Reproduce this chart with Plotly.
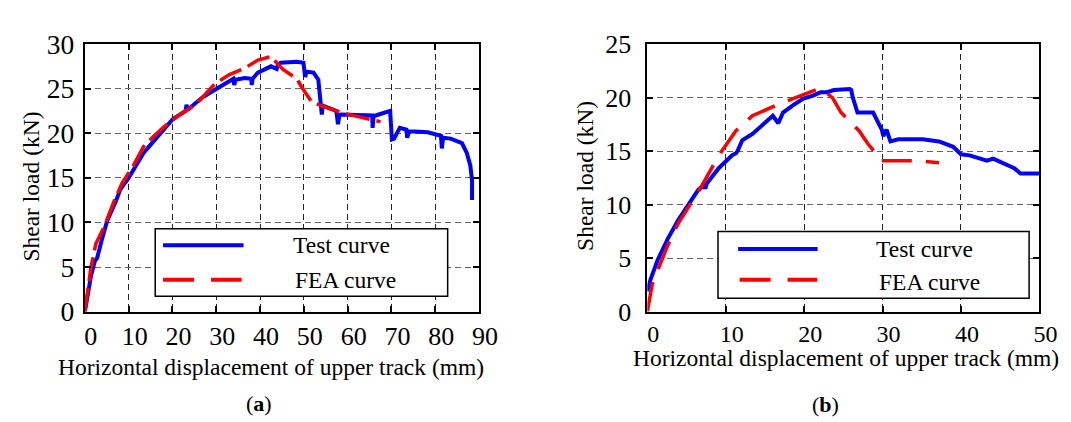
import plotly.graph_objects as go

# ---------------- data ----------------
# Panel (a)
a_test_x = [0, 0.7, 1.4, 2.3, 2.8, 3.9, 5.1, 7.0, 8.1, 10.0, 13.4, 17.1, 20.1, 23.0, 23.2, 23.4,
            26.8, 29.8, 32.0, 33.9, 34.1, 34.4, 36.5, 38.0, 38.1, 38.3, 39.5, 42.5, 43.8, 44.0, 44.7,
            46.9, 48.4, 49.9, 50.3, 50.6, 52.2, 53.3, 53.7, 54.0, 54.1, 54.3, 54.8, 57.4, 57.8, 58.1,
            58.5, 61.9, 65.6, 65.7, 65.9, 67.1, 69.7, 70.1, 70.6, 71.9, 73.4, 73.6, 74.0, 75.3, 78.3,
            81.3, 81.5, 81.8, 83.5, 86.1, 87.2, 88.0, 88.4, 88.4]
a_test_y = [0, 2.2, 4.0, 5.7, 6.0, 8.1, 10.2, 12.3, 13.7, 15.0, 17.8, 19.9, 21.6, 22.5, 23.2, 22.6,
            24.0, 24.9, 25.6, 26.1, 25.4, 26.0, 26.2, 26.1, 25.4, 26.1, 26.8, 27.5, 27.2, 27.6, 27.9,
            28.0, 28.0, 27.9, 26.3, 26.9, 26.8, 26.0, 23.7, 23.2, 22.1, 23.1, 23.0, 22.5, 21.0, 22.0,
            22.1, 22.1, 22.0, 20.6, 21.9, 22.1, 22.5, 19.3, 19.4, 20.6, 20.4, 19.5, 20.2, 20.2, 20.1,
            19.7, 18.3, 19.5, 19.4, 18.9, 17.8, 16.4, 14.7, 12.5]
a_fea_x = [0, 0.7, 1.4, 2.5, 4.4, 6.6, 8.5, 11.1, 13.4, 15.6, 17.8, 20.1, 22.3, 25.3, 27.5, 29.8,
           33.1, 36.5, 39.5, 42.5, 45.1, 48.4, 49.6, 51.8, 54.4, 57.4, 61.1, 64.8, 67.5]
a_fea_y = [0, 2.9, 5.0, 7.6, 9.5, 12.3, 14.4, 16.4, 18.5, 19.6, 20.6, 21.5, 22.3, 23.2, 24.4, 25.6,
           26.6, 27.3, 28.2, 28.6, 27.2, 26.1, 25.1, 23.5, 23.0, 22.5, 22.0, 21.6, 21.3]

# Panel (b)
b_test_x = [0, 0.4, 1.3, 2.6, 3.9, 5.2, 6.5, 7.2, 7.4, 7.6, 9.1, 10.8, 11.3, 11.5, 12.1, 13.4, 14.7,
            16.0, 16.7, 17.3, 18.6, 19.9, 21.2, 22.1, 22.9, 23.8, 25.8, 26.0, 26.2, 26.4, 26.8, 28.1,
            28.8, 29.2, 29.9, 30.1, 30.5, 31.0, 32.0, 35.1, 37.2, 39.0, 40.0, 41.1, 43.3, 44.1, 45.5,
            46.8, 47.6, 50.0]
b_test_y = [1.9, 3.0, 4.8, 6.8, 8.5, 9.9, 11.4, 11.8, 11.5, 12.0, 13.4, 14.6, 14.8, 15.0, 16.0, 16.6,
            17.4, 18.3, 17.6, 18.6, 19.3, 19.9, 20.2, 20.5, 20.5, 20.7, 20.8, 20.7, 20.0, 19.5, 18.6,
            18.6, 18.6, 18.0, 17.0, 16.4, 17.0, 15.9, 16.1, 16.1, 15.9, 15.4, 14.7, 14.6, 14.1, 14.3,
            13.8, 13.4, 12.9, 12.9]
b_fea_x = [0, 0.6, 1.5, 2.6, 3.9, 5.6, 6.9, 8.2, 9.5, 11.3, 13.4, 16.5, 19.5, 22.1, 23.6, 24.7,
           25.5, 27.0, 28.1, 29.0, 29.6, 30.7, 34.6, 37.2]
b_fea_y = [0, 2.5, 4.2, 6.2, 8.2, 10.2, 11.7, 13.4, 15.0, 16.9, 18.3, 19.3, 20.2, 20.9, 20.0, 18.6,
           18.0, 16.9, 15.7, 14.9, 14.1, 14.1, 14.1, 13.9]

a_xticks = [0, 10, 20, 30, 40, 50, 60, 70, 80, 90]
a_yticks = [0, 5, 10, 15, 20, 25, 30]
b_xticks = [0, 10, 20, 30, 40, 50]
b_yticks = [0, 5, 10, 15, 20, 25]

legend_labels = ["Test curve", "FEA curve"]
x_title = "Horizontal displacement of upper track (mm)"
y_title = "Shear load (kN)"
panel_labels = ["(<b>a</b>)", "(<b>b</b>)"]

# ---------------- figure ----------------
W, H = 1071, 422
BLUE = "#0000FF"
RED = "#FF0000"
FONT = "Liberation Serif, Times New Roman, serif"


def px(x):
    return x / W


def py(y):
    return 1 - y / H


fig = go.Figure()
fig.add_trace(go.Scatter(x=a_test_x, y=a_test_y, mode="lines", line=dict(color=BLUE, width=4),
                         xaxis="x", yaxis="y", showlegend=False))
fig.add_trace(go.Scatter(x=a_fea_x, y=a_fea_y, mode="lines",
                         line=dict(color=RED, width=3.5, dash="24px,7px"),
                         xaxis="x", yaxis="y", showlegend=False))
fig.add_trace(go.Scatter(x=b_test_x, y=b_test_y, mode="lines", line=dict(color=BLUE, width=4),
                         xaxis="x2", yaxis="y2", showlegend=False))
fig.add_trace(go.Scatter(x=b_fea_x, y=b_fea_y, mode="lines",
                         line=dict(color=RED, width=3.5, dash="30px,14px"),
                         xaxis="x2", yaxis="y2", showlegend=False))

ydom = [py(311.5), py(22.7)]


def xaxis_style(size):
    return dict(showline=True, linecolor="black", linewidth=2, mirror="ticks", ticks="inside",
                ticklen=6, tickcolor="black", tickwidth=1.5, showgrid=True, gridcolor="#222",
                griddash="6px,4px", gridwidth=1, zeroline=False, ticklabelshift=6,
                tickfont=dict(family=FONT, size=size, color="black"))


def yaxis_style(size, standoff):
    return dict(showline=True, linecolor="black", linewidth=2, mirror="ticks", ticks="inside",
                ticklen=6, tickcolor="black", tickwidth=1.5, showgrid=True, gridcolor="#666",
                griddash="6px,4px", gridwidth=1, zeroline=False, ticklabelstandoff=standoff,
                tickfont=dict(family=FONT, size=size, color="black"))


fig.update_layout(
    width=W, height=H, margin=dict(l=0, r=0, t=0, b=0),
    paper_bgcolor="white", plot_bgcolor="white", showlegend=False,
    xaxis=dict(domain=[px(77.3), px(479)], range=[0, 90], tickvals=a_xticks, anchor="y", **xaxis_style(26)),
    yaxis=dict(domain=ydom, range=[0, 30], tickvals=a_yticks, anchor="x", **yaxis_style(27.5, 3)),
    xaxis2=dict(domain=[px(650.5), px(1050)], range=[0, 50], tickvals=b_xticks, anchor="y2", **xaxis_style(24)),
    yaxis2=dict(domain=ydom, range=[0, 25], tickvals=b_yticks, anchor="x2", **yaxis_style(26, 9)),
)

shapes = []
annotations = []

# legends (drawn manually to mimic the original boxed legend)
legend_specs = [
    dict(box=(149, 222, 447, 295), tline=(157, 239, 240), fdash="31px,17px", fline=(157, 237, 277),
         ttext=(339, 240), ftext=(343, 277)),
    dict(box=(722.5, 225, 1039.5, 297), tline=(743, 824, 244), fdash="31px,17px", fline=(744.5, 823.5, 277),
         ttext=(933, 244), ftext=(938, 280)),
]
for spec in legend_specs:
    x0, y0, x1, y1 = spec["box"]
    shapes.append(dict(type="rect", xref="paper", yref="paper", x0=px(x0), x1=px(x1), y0=py(y1), y1=py(y0),
                       line=dict(color="black", width=1.5), fillcolor="white", layer="above"))
    lx0, lx1, ly = spec["tline"]
    shapes.append(dict(type="line", xref="paper", yref="paper", x0=px(lx0), x1=px(lx1), y0=py(ly), y1=py(ly),
                       line=dict(color=BLUE, width=4), layer="above"))
    lx0, lx1, ly = spec["fline"]
    shapes.append(dict(type="line", xref="paper", yref="paper", x0=px(lx0), x1=px(lx1), y0=py(ly), y1=py(ly),
                       line=dict(color=RED, width=4, dash=spec["fdash"]), layer="above"))
    for (tx, ty), label in zip([spec["ttext"], spec["ftext"]], legend_labels):
        annotations.append(dict(x=px(tx), y=py(ty), xref="paper", yref="paper", text=label, showarrow=False,
                                xanchor="center", yanchor="middle",
                                font=dict(family=FONT, size=23.5, color="black")))

# axis titles and panel labels
for cx, cy in [(267, 371), (853, 362)]:
    annotations.append(dict(x=px(cx), y=py(cy), xref="paper", yref="paper", text=x_title, showarrow=False,
                            xanchor="center", yanchor="middle", font=dict(family=FONT, size=23.5, color="black")))
for cx, cy in [(22, 177), (587, 165)]:
    annotations.append(dict(x=px(cx), y=py(cy), xref="paper", yref="paper", text=y_title, showarrow=False,
                            textangle=-90, xanchor="center", yanchor="middle",
                            font=dict(family=FONT, size=23.5, color="black")))
for (cx, cy), lab in zip([(255, 411), (832, 412)], panel_labels):
    annotations.append(dict(x=px(cx), y=py(cy), xref="paper", yref="paper", text=lab, showarrow=False,
                            xanchor="center", yanchor="middle", font=dict(family=FONT, size=22, color="black")))

fig.update_layout(shapes=shapes, annotations=annotations)
fig.write_html("out.html")
